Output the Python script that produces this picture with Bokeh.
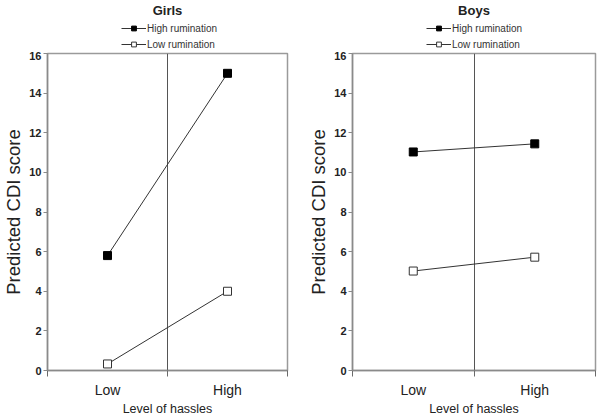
from bokeh.plotting import figure
from bokeh.layouts import row, column
from bokeh.models import FixedTicker, Label, Legend, LegendItem, Range1d
from bokeh.embed import file_html
from bokeh.resources import INLINE

hassles = ["Low", "High"]
girls_high = [5.8, 15.0]
girls_low = [0.33, 4.0]
boys_high = [11.03, 11.44]
boys_low = [5.02, 5.72]
y_ticks = [0, 2, 4, 6, 8, 10, 12, 14, 16]
series_names = ["High rumination", "Low rumination"]

FONT = "Liberation Sans"
xs = [i + 0.5 for i in range(len(hassles))]
HEAD_H = 51


def panel(title, high, low, width, left, right):
    # ---------- main plot ----------
    p = figure(width=width, height=418 - HEAD_H, output_backend="svg", toolbar_location=None,
               x_range=Range1d(0, len(hassles)), y_range=Range1d(y_ticks[0], y_ticks[-1]),
               min_border_left=left, min_border_right=right, min_border_top=2,
               min_border_bottom=47)
    p.outline_line_color = "#9a9a9a"
    p.outline_line_width = 1.5
    p.background_fill_color = "white"
    p.border_fill_color = "white"

    p.yaxis.ticker = FixedTicker(ticks=y_ticks)
    p.yaxis.axis_line_color = "#8a8a8a"
    p.yaxis.axis_line_width = 1.5
    p.yaxis.major_tick_out = 4
    p.yaxis.major_tick_in = 0
    p.yaxis.major_tick_line_color = "#8a8a8a"
    p.yaxis.minor_tick_line_color = None
    p.yaxis.major_label_text_font = FONT
    p.yaxis.major_label_text_font_style = "bold"
    p.yaxis.major_label_text_font_size = "11px"
    p.yaxis.major_label_text_color = "#222222"
    p.yaxis.major_label_standoff = 2
    p.yaxis.axis_label = "Predicted CDI score"
    p.yaxis.axis_label_text_font = FONT
    p.yaxis.axis_label_text_font_size = "18.5px"
    p.yaxis.axis_label_text_font_style = "normal"
    p.yaxis.axis_label_text_color = "#222222"
    p.yaxis.axis_label_standoff = 2

    p.xaxis.ticker = FixedTicker(ticks=xs, minor_ticks=list(range(len(hassles) + 1)))
    p.xaxis.major_label_overrides = {x: h for x, h in zip(xs, hassles)}
    p.xaxis.axis_line_color = "#8a8a8a"
    p.xaxis.axis_line_width = 1.5
    p.xaxis.major_tick_line_color = None
    p.xaxis.major_tick_out = 0
    p.xaxis.major_tick_in = 0
    p.xaxis.minor_tick_out = 6
    p.xaxis.minor_tick_in = 0
    p.xaxis.minor_tick_line_color = "#6a6a6a"
    p.xaxis.major_label_text_font = FONT
    p.xaxis.major_label_text_font_size = "14px"
    p.xaxis.major_label_text_color = "#222222"
    p.xaxis.major_label_standoff = 5
    p.xaxis.axis_label = "Level of hassles"
    p.xaxis.axis_label_text_font = FONT
    p.xaxis.axis_label_text_font_size = "12.5px"
    p.xaxis.axis_label_text_font_style = "normal"
    p.xaxis.axis_label_text_color = "#222222"
    p.xaxis.axis_label_standoff = 1

    p.ygrid.grid_line_color = None
    p.xgrid.ticker = FixedTicker(ticks=[1])
    p.xgrid.grid_line_color = "#555555"
    p.xgrid.grid_line_width = 1

    p.line(xs, high, line_color="#333333", line_width=1)
    p.scatter(xs, high, marker="square", size=8, fill_color="black", line_color="black")
    p.line(xs, low, line_color="#333333", line_width=1)
    p.scatter(xs, low, marker="square", size=8, fill_color="white", line_color="#333333")

    # ---------- header with title and legend (frame aligned with main frame) ----------
    h = figure(width=width, height=HEAD_H, output_backend="svg", toolbar_location=None,
               x_range=Range1d(0, len(hassles)), y_range=Range1d(0, HEAD_H),
               x_axis_type=None, y_axis_type=None,
               min_border_left=left, min_border_right=right,
               min_border_top=0, min_border_bottom=0)
    h.outline_line_color = None
    h.xgrid.grid_line_color = None
    h.ygrid.grid_line_color = None
    h.background_fill_color = "white"
    h.border_fill_color = "white"

    # legend proxies (hidden on the canvas; only their legend swatches are drawn)
    lh = h.line(xs, high, line_color="#333333", line_width=1, visible=False)
    sh = h.scatter(xs, high, marker="square", size=8, fill_color="black",
                   line_color="black", visible=False)
    ll = h.line(xs, low, line_color="#333333", line_width=1, visible=False)
    sl = h.scatter(xs, low, marker="square", size=8, fill_color="white",
                   line_color="#333333", visible=False)

    legend = Legend(items=[LegendItem(label=series_names[0], renderers=[lh, sh]),
                           LegendItem(label=series_names[1], renderers=[ll, sl])],
                    location=(74, 1), orientation="vertical",
                    glyph_width=25, glyph_height=12, label_height=12, label_standoff=1,
                    spacing=4, padding=0, margin=0, border_line_color=None,
                    background_fill_alpha=0, label_text_font=FONT,
                    label_text_font_size="10px", label_text_color="#333333")
    h.add_layout(legend, "center")
    h.add_layout(Label(x=len(hassles) / 2, y=HEAD_H - 10, text=title, text_align="center",
                       text_baseline="middle", text_font=FONT, text_font_style="bold",
                       text_font_size="13px", text_color="#222222"))
    return column(h, p, spacing=0)


p1 = panel("Girls", girls_high, girls_low, 300, 44, 13)
p2 = panel("Boys", boys_high, boys_low, 300, 52, 5)
layout = row(p1, p2, spacing=0)

open("out.html", "w").write(file_html(layout, INLINE))
